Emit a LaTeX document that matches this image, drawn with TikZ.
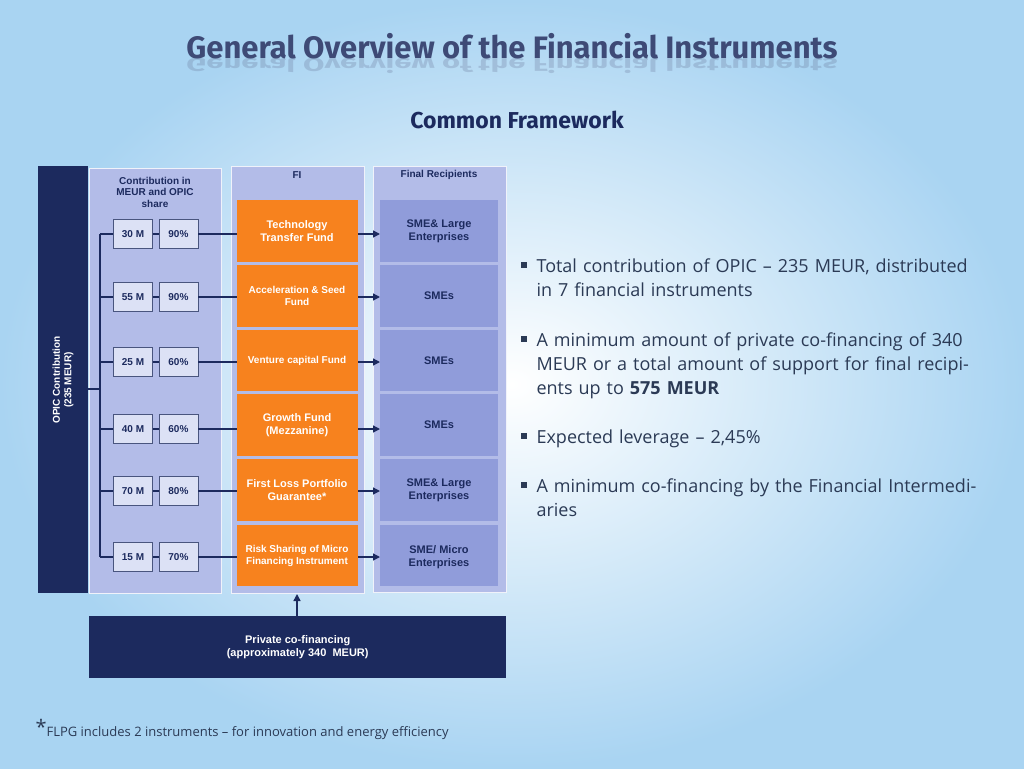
\documentclass[tikz,border=0pt]{standalone}
\usepackage{fontspec}
\setmainfont{Liberation Sans}
\newfontfamily\bodyfont{Open Sans}
\newfontfamily\titlefont{Fira Sans}
\usetikzlibrary{arrows.meta,positioning}
\definecolor{navy}{HTML}{1C2A5E}
\definecolor{colbg}{HTML}{B3BCE8}
\definecolor{frbox}{HTML}{909CDA}
\definecolor{fiorange}{HTML}{F7821E}
\definecolor{smallbg}{HTML}{DCE1F5}
\definecolor{bodytext}{HTML}{2B3A55}
\definecolor{skyblue}{HTML}{A9D4F2}
\begin{document}
\begin{tikzpicture}[
        x=1pt, y=-1pt,
        font=\bfseries\fontsize{11}{13}\selectfont,
        column/.style={fill=colbg, draw=white!80!colbg, line width=0.8pt},
        valbox/.style={draw=navy!80, fill=smallbg, text=navy, minimum width=39pt, minimum height=29pt, inner sep=0pt},
        small/.style={font=\bfseries\fontsize{10}{11.5}\selectfont},
        link/.style={navy, line width=1.4pt},
        flow/.style={link, -{Triangle[length=7pt,width=7pt]}},
        bullet/.style={anchor=north west, text width=448pt, align=left, text=bodytext,
            font=\bodyfont\fontsize{18}{24}\selectfont}
    ]
    % background
    \shade[inner color=white, outer color=skyblue] (0,0) rectangle (1024,768);
    \useasboundingbox (0,0) rectangle (1024,768);
    % titles
    \node[text=navy!70, opacity=0.25, yscale=-0.6, font=\titlefont\bfseries\fontsize{31}{36}\selectfont] at (512,66) {General Overview of the Financial Instruments};
    \node[text=navy!85, font=\titlefont\bfseries\fontsize{31}{36}\selectfont] (title) at (512,46) {General Overview of the Financial Instruments};
    \node[text=navy, font=\titlefont\bfseries\fontsize{23}{27}\selectfont] (framework) at (517,120) {Common Framework};
    % columns
    \fill[navy] (38,166) rectangle (88,593);
    \node[rotate=90, text=white, align=center, small] (opic) at (63,380) {OPIC Contribution\\(235 MEUR)};
    \draw[column] (89,168) rectangle (221,593);
    \draw[column] (231,166) rectangle (364,593);
    \draw[column] (373,166) rectangle (506,592);
    \node[text=navy, align=center, small] (hcontrib) at (155,192) {Contribution in\\MEUR and OPIC\\share};
    \node[text=navy, small] (hfi) at (297,175) {FI};
    \node[text=navy, small] (hfr) at (439,175) {Final Recipients};
    % rows
    \foreach \yt/\yb in {200/262, 265/327, 330/391, 394/456, 459/521, 525/586} {
        \fill[fiorange] (237,\yt) rectangle (358,\yb);
        \fill[frbox] (380,\yt) rectangle (498,\yb);
    }
    \node[text=white, align=center] (fi1) at (297,231) {Technology\\Transfer Fund};
    \node[text=white, align=center, small] (fi2) at (297,296) {Acceleration \& Seed\\Fund};
    \node[text=white, small] (fi3) at (297,361) {Venture capital Fund};
    \node[text=white, align=center] (fi4) at (297,425) {Growth Fund\\(Mezzanine)};
    \node[text=white, align=center] (fi5) at (297,490) {First Loss Portfolio\\Guarantee*};
    \node[text=white, align=center, small] (fi6) at (297,556) {Risk Sharing of Micro\\Financing Instrument};
    \node[text=navy, align=center] (fr1) at (439,231) {SME\& Large\\Enterprises};
    \node[text=navy] (fr2) at (439,296) {SMEs};
    \node[text=navy] (fr3) at (439,361) {SMEs};
    \node[text=navy] (fr4) at (439,425) {SMEs};
    \node[text=navy, align=center] (fr5) at (439,490) {SME\& Large\\Enterprises};
    \node[text=navy, align=center] (fr6) at (439,557) {SME/ Micro\\Enterprises};
    % amounts and shares
    \foreach \i/\y/\amt/\shr in {1/234/30 M/90\%, 2/297/55 M/90\%, 3/362/25 M/60\%,
                                 4/429/40 M/60\%, 5/491/70 M/80\%, 6/557/15 M/70\%} {
        \node[valbox, small] (amt\i) at (133,\y) {\amt};
        \node[valbox, small, right=6pt of amt\i] (shr\i) {\shr};
        \draw[link] (100,\y) -- (amt\i.west);
        \draw[link] (amt\i) -- (shr\i);
        \draw[link] (shr\i.east) -- (237,\y);
        \draw[flow] (358,\y) -- (380,\y);
    }
    \draw[link] (100,234) -- (100,557);
    \draw[link] (88,389) -- (100,389);
    % private co-financing
    \node[fill=navy, text=white, align=center, minimum width=417pt, minimum height=62pt, anchor=north west] (private) at (89,616) {Private co-financing\\(approximately 340\ \ MEUR)};
    \draw[flow] (private.north -| fi1) -- (297,594);
    % bullets
    \foreach \y/\txt in {255/{Total contribution of OPIC – 235 MEUR, distributed in 7 financial instruments},
                         329/{A minimum amount of private co-financing of 340 MEUR or a total amount of support for final recipients up to \textbf{575 MEUR}},
                         426/{Expected leverage – 2,45\%},
                         475/{A minimum co-financing by the Financial Intermediaries}} {
        \fill[bodytext] (521,\y+7) rectangle ++(6,6);
        \node[bullet] at (533,\y) {\txt};
    }
    % footnote
    \node[anchor=west, text=bodytext, font=\bodyfont\fontsize{13}{15}\selectfont] (note) at (32,729) {\raisebox{2pt}{\fontsize{20}{20}\selectfont*}FLPG includes 2 instruments – for innovation and energy efficiency};
\end{tikzpicture}
\end{document}
